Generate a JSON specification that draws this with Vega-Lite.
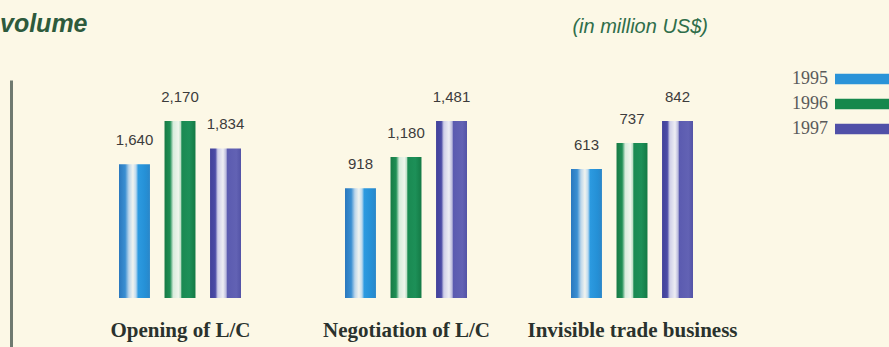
{
  "$schema": "https://vega.github.io/schema/vega-lite/v6.json",
  "background": "#fcf8e6",
  "padding": {"left": 0, "top": 12, "right": 0, "bottom": 0},
  "data": {
    "values": [
      {"category": "Opening of L/C", "year": "1995", "value": 1640},
      {"category": "Opening of L/C", "year": "1996", "value": 2170},
      {"category": "Opening of L/C", "year": "1997", "value": 1834},
      {"category": "Negotiation of L/C", "year": "1995", "value": 918},
      {"category": "Negotiation of L/C", "year": "1996", "value": 1180},
      {"category": "Negotiation of L/C", "year": "1997", "value": 1481},
      {"category": "Invisible trade business", "year": "1995", "value": 613},
      {"category": "Invisible trade business", "year": "1996", "value": 737},
      {"category": "Invisible trade business", "year": "1997", "value": 842}
    ]
  },
  "bounds": "flush",
  "spacing": 104,
  "config": {
    "view": {"stroke": null},
    "axisX": {
      "labels": false, "ticks": false, "domain": false, "grid": false,
      "offset": -40, "titlePadding": 10,
      "titleFont": "Liberation Serif", "titleFontSize": 21, "titleFontWeight": "bold", "titleColor": "#2a322d"
    },
    "title": {"offset": 43}
  },
  "hconcat": [
    {
      "width": 122, "height": 269,
      "title": {"text": "volume", "anchor": "start", "frame": "bounds", "dx": -11,
                "font": "Liberation Sans", "fontSize": 25, "fontStyle": "italic", "fontWeight": "bold", "color": "#2d5a3c"},
      "transform": [{"filter": "datum.category == 'Opening of L/C'"}],
      "encoding": {
        "x": {"field": "year", "type": "nominal", "scale": {"paddingInner": 0.32, "paddingOuter": 0}, "axis": {"title": "Opening of L/C"}},
        "y": {"field": "value", "type": "quantitative", "scale": {"domain": [-625, 2673], "nice": false},
              "axis": {"labels": false, "ticks": false, "grid": false, "title": null, "domain": true, "domainColor": "#6f7a70", "domainWidth": 3, "offset": 108}}
      },
      "layer": [
        {"transform": [{"filter": "datum.year == '1995'"}],
         "mark": {"type": "bar", "color": {"gradient": "linear", "x1": 0, "y1": 0, "x2": 1, "y2": 0, "stops": [
           {"offset": 0, "color": "#2a78be"}, {"offset": 0.2, "color": "#3a8fd2"}, {"offset": 0.32, "color": "#bcd6ea"},
           {"offset": 0.45, "color": "#f2f4ef"}, {"offset": 0.55, "color": "#b9d8ee"}, {"offset": 0.62, "color": "#2c9ae0"},
           {"offset": 0.85, "color": "#2590d6"}, {"offset": 1, "color": "#2a86c8"}]}}},
        {"transform": [{"filter": "datum.year == '1996'"}],
         "mark": {"type": "bar", "color": {"gradient": "linear", "x1": 0, "y1": 0, "x2": 1, "y2": 0, "stops": [
           {"offset": 0, "color": "#177a45"}, {"offset": 0.18, "color": "#1f8f55"}, {"offset": 0.28, "color": "#d8ecdc"},
           {"offset": 0.45, "color": "#f0f5ec"}, {"offset": 0.52, "color": "#bfe0c8"}, {"offset": 0.56, "color": "#1a8a52"},
           {"offset": 0.8, "color": "#1d9058"}, {"offset": 1, "color": "#147a45"}]}}},
        {"transform": [{"filter": "datum.year == '1997'"}],
         "mark": {"type": "bar", "color": {"gradient": "linear", "x1": 0, "y1": 0, "x2": 1, "y2": 0, "stops": [
           {"offset": 0, "color": "#41419a"}, {"offset": 0.17, "color": "#4b4ba6"}, {"offset": 0.25, "color": "#cfcfe8"},
           {"offset": 0.42, "color": "#eeeef4"}, {"offset": 0.52, "color": "#b8b8dc"}, {"offset": 0.56, "color": "#5b5bb0"},
           {"offset": 0.85, "color": "#6262b4"}, {"offset": 1, "color": "#5353a6"}]}}},
        {"mark": {"type": "text", "baseline": "bottom", "dy": -16, "font": "Liberation Sans", "fontSize": 15, "fill": "#3c3c3c"},
         "encoding": {"text": {"field": "value", "type": "quantitative", "format": ","}}}
      ]
    },
    {
      "width": 122, "height": 269,
      "transform": [{"filter": "datum.category == 'Negotiation of L/C'"}],
      "encoding": {
        "x": {"field": "year", "type": "nominal", "scale": {"paddingInner": 0.32, "paddingOuter": 0}, "axis": {"title": "Negotiation of L/C"}},
        "y": {"field": "value", "type": "quantitative", "scale": {"domain": [-427, 1824], "nice": false}, "axis": null}
      },
      "layer": [
        {"mark": {"type": "bar", "opacity": 0},
         "encoding": {"color": {"field": "year", "type": "nominal",
           "scale": {"domain": ["1995", "1996", "1997"], "range": ["#2a93d8", "#16884c", "#5050a8"]},
           "legend": {"orient": "none", "legendX": 737, "legendY": -10, "title": null,
             "symbolType": "M-6,-1.05H7V1.05H-6Z", "symbolSize": 100, "symbolOpacity": 1, "symbolStrokeWidth": 0,
             "labelAlign": "right", "labelOffset": -46, "labelFont": "Liberation Serif", "labelFontSize": 18,
             "labelColor": "#5a5a5a", "rowPadding": 7}}}},
        {"transform": [{"filter": "datum.year == '1995'"}],
         "mark": {"type": "bar", "color": {"gradient": "linear", "x1": 0, "y1": 0, "x2": 1, "y2": 0, "stops": [
           {"offset": 0, "color": "#2a78be"}, {"offset": 0.2, "color": "#3a8fd2"}, {"offset": 0.32, "color": "#bcd6ea"},
           {"offset": 0.45, "color": "#f2f4ef"}, {"offset": 0.55, "color": "#b9d8ee"}, {"offset": 0.62, "color": "#2c9ae0"},
           {"offset": 0.85, "color": "#2590d6"}, {"offset": 1, "color": "#2a86c8"}]}}},
        {"transform": [{"filter": "datum.year == '1996'"}],
         "mark": {"type": "bar", "color": {"gradient": "linear", "x1": 0, "y1": 0, "x2": 1, "y2": 0, "stops": [
           {"offset": 0, "color": "#177a45"}, {"offset": 0.18, "color": "#1f8f55"}, {"offset": 0.28, "color": "#d8ecdc"},
           {"offset": 0.45, "color": "#f0f5ec"}, {"offset": 0.52, "color": "#bfe0c8"}, {"offset": 0.56, "color": "#1a8a52"},
           {"offset": 0.8, "color": "#1d9058"}, {"offset": 1, "color": "#147a45"}]}}},
        {"transform": [{"filter": "datum.year == '1997'"}],
         "mark": {"type": "bar", "color": {"gradient": "linear", "x1": 0, "y1": 0, "x2": 1, "y2": 0, "stops": [
           {"offset": 0, "color": "#41419a"}, {"offset": 0.17, "color": "#4b4ba6"}, {"offset": 0.25, "color": "#cfcfe8"},
           {"offset": 0.42, "color": "#eeeef4"}, {"offset": 0.52, "color": "#b8b8dc"}, {"offset": 0.56, "color": "#5b5bb0"},
           {"offset": 0.85, "color": "#6262b4"}, {"offset": 1, "color": "#5353a6"}]}}},
        {"mark": {"type": "text", "baseline": "bottom", "dy": -16, "font": "Liberation Sans", "fontSize": 15, "fill": "#3c3c3c"},
         "encoding": {"text": {"field": "value", "type": "quantitative", "format": ","}}}
      ]
    },
    {
      "width": 122, "height": 269,
      "title": {"text": "(in million US$)", "anchor": "end", "frame": "group", "dx": 15,
                "font": "Liberation Sans", "fontSize": 20, "fontStyle": "italic", "fontWeight": "normal", "color": "#2f6e4a"},
      "transform": [{"filter": "datum.category == 'Invisible trade business'"}],
      "encoding": {
        "x": {"field": "year", "type": "nominal", "scale": {"paddingInner": 0.32, "paddingOuter": 0}, "axis": {"title": "Invisible trade business"}},
        "y": {"field": "value", "type": "quantitative", "scale": {"domain": [-243, 1037], "nice": false}, "axis": null}
      },
      "layer": [
        {"transform": [{"filter": "datum.year == '1995'"}],
         "mark": {"type": "bar", "color": {"gradient": "linear", "x1": 0, "y1": 0, "x2": 1, "y2": 0, "stops": [
           {"offset": 0, "color": "#2a78be"}, {"offset": 0.2, "color": "#3a8fd2"}, {"offset": 0.32, "color": "#bcd6ea"},
           {"offset": 0.45, "color": "#f2f4ef"}, {"offset": 0.55, "color": "#b9d8ee"}, {"offset": 0.62, "color": "#2c9ae0"},
           {"offset": 0.85, "color": "#2590d6"}, {"offset": 1, "color": "#2a86c8"}]}}},
        {"transform": [{"filter": "datum.year == '1996'"}],
         "mark": {"type": "bar", "color": {"gradient": "linear", "x1": 0, "y1": 0, "x2": 1, "y2": 0, "stops": [
           {"offset": 0, "color": "#177a45"}, {"offset": 0.18, "color": "#1f8f55"}, {"offset": 0.28, "color": "#d8ecdc"},
           {"offset": 0.45, "color": "#f0f5ec"}, {"offset": 0.52, "color": "#bfe0c8"}, {"offset": 0.56, "color": "#1a8a52"},
           {"offset": 0.8, "color": "#1d9058"}, {"offset": 1, "color": "#147a45"}]}}},
        {"transform": [{"filter": "datum.year == '1997'"}],
         "mark": {"type": "bar", "color": {"gradient": "linear", "x1": 0, "y1": 0, "x2": 1, "y2": 0, "stops": [
           {"offset": 0, "color": "#41419a"}, {"offset": 0.17, "color": "#4b4ba6"}, {"offset": 0.25, "color": "#cfcfe8"},
           {"offset": 0.42, "color": "#eeeef4"}, {"offset": 0.52, "color": "#b8b8dc"}, {"offset": 0.56, "color": "#5b5bb0"},
           {"offset": 0.85, "color": "#6262b4"}, {"offset": 1, "color": "#5353a6"}]}}},
        {"mark": {"type": "text", "baseline": "bottom", "dy": -16, "font": "Liberation Sans", "fontSize": 15, "fill": "#3c3c3c"},
         "encoding": {"text": {"field": "value", "type": "quantitative", "format": ","}}}
      ]
    }
  ]
}
